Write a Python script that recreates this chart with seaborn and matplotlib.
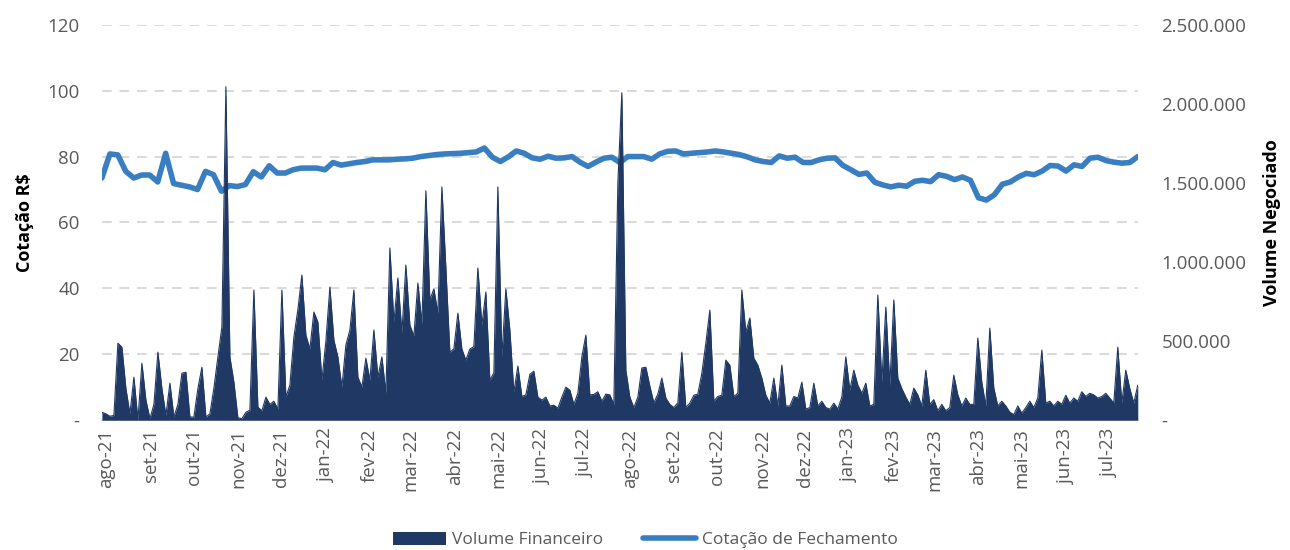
import pandas as pd
import matplotlib.pyplot as plt
from matplotlib.patches import Patch
from matplotlib.lines import Line2D
import seaborn as sns

# período do gráfico
inicio = '2021-07-29'
fim = '2023-07-21'

# Volume negociado (em milhares), ~a cada 2 pregões
volume_mil = [
    50, 40, 25, 30, 487, 462, 200, 40, 272, 0,
    360, 127, 10, 100, 430, 200, 30, 234, 20, 100,
    297, 303, 20, 20, 200, 335, 20, 40, 203, 400,
    590, 2108, 400, 240, 15, 10, 50, 63, 823, 82,
    60, 146, 100, 120, 70, 823, 146, 222, 525, 700,
    918, 538, 450, 684, 620, 253, 500, 842, 506, 400,
    209, 475, 570, 823, 272, 209, 392, 253, 570, 272,
    400, 171, 1089, 620, 899, 551, 981, 601, 532, 867,
    608, 1450, 760, 830, 677, 1475, 962, 430, 450, 677,
    450, 380, 450, 465, 962, 601, 810, 253, 300, 1475,
    400, 830, 570, 177, 342, 150, 160, 290, 310, 146,
    127, 146, 90, 95, 76, 146, 209, 190, 100, 170,
    400, 538, 160, 163, 180, 120, 165, 160, 100, 1500,
    2070, 316, 146, 80, 146, 330, 335, 215, 110, 165,
    266, 140, 100, 80, 110, 430, 80, 108, 158, 165,
    297, 487, 696, 120, 150, 158, 380, 348, 150, 170,
    823, 557, 646, 392, 348, 266, 158, 108, 266, 90,
    348, 90, 90, 150, 140, 240, 70, 80, 234, 90,
    120, 80, 70, 108, 70, 146, 400, 190, 316, 222,
    170, 234, 90, 100, 791, 240, 715, 220, 760, 266,
    200, 146, 100, 203, 160, 90, 316, 100, 130, 60,
    100, 60, 80, 285, 160, 90, 140, 100, 100, 519,
    240, 90, 582, 203, 90, 120, 90, 51, 35, 90,
    45, 80, 120, 80, 140, 443, 108, 120, 90, 120,
    100, 158, 108, 140, 120, 180, 150, 170, 160, 140,
    150, 170, 140, 108, 462, 108, 316, 200, 108, 222,
]

# Cotação de fechamento (R$), ~semanal
cotacao = [
    73.5, 80.8, 80.5, 75.5, 73.5, 74.4, 74.4, 72.3, 81.0, 71.8,
    71.3, 70.8, 70.0, 75.5, 74.5, 69.5, 71.2, 70.9, 71.5, 75.4,
    73.8, 77.2, 75.0, 75.0, 76.0, 76.5, 76.5, 76.5, 76.0, 78.2,
    77.4, 77.8, 78.2, 78.5, 79.0, 79.0, 79.0, 79.2, 79.3, 79.5,
    80.0, 80.3, 80.6, 80.8, 80.9, 81.0, 81.2, 81.4, 82.6, 79.8,
    78.5, 79.9, 81.7, 81.0, 79.6, 79.2, 80.1, 79.5, 79.6, 80.0,
    78.3, 77.0, 78.3, 79.5, 79.8, 78.2, 80.0, 80.0, 80.0, 79.2,
    80.8, 81.6, 81.7, 80.8, 81.0, 81.2, 81.4, 81.7, 81.4, 81.0,
    80.6, 79.9, 79.0, 78.5, 78.2, 80.2, 79.5, 79.8, 78.2, 78.2,
    79.0, 79.5, 79.6, 77.3, 76.0, 74.6, 75.0, 72.2, 71.4, 70.8,
    71.3, 71.0, 72.5, 72.8, 72.4, 74.5, 74.0, 73.0, 73.8, 72.8,
    67.5, 66.8, 68.4, 71.6, 72.3, 73.8, 74.9, 74.5, 75.6, 77.3,
    77.1, 75.6, 77.5, 77.0, 79.5, 79.8, 78.8, 78.3, 78.0, 78.2,
    80.0,
]

meses = ['ago-21', 'set-21', 'out-21', 'nov-21', 'dez-21', 'jan-22', 'fev-22',
         'mar-22', 'abr-22', 'mai-22', 'jun-22', 'jul-22', 'ago-22', 'set-22',
         'out-22', 'nov-22', 'dez-22', 'jan-23', 'fev-23', 'mar-23', 'abr-23',
         'mai-23', 'jun-23', 'jul-23']

datas_vol = pd.date_range(inicio, fim, periods=len(volume_mil))
datas_cot = pd.date_range(inicio, fim, periods=len(cotacao))
datas_meses = pd.date_range('2021-08-01', periods=len(meses), freq='MS')
volume = [v * 1000 for v in volume_mil]

azul_escuro = '#1F3864'
azul = '#3A7EC2'
cinza = '#595959'

sns.set_theme(style='white')
plt.rcParams['font.family'] = ['Open Sans', 'DejaVu Sans']

fig, ax = plt.subplots(figsize=(12.9, 5.5), dpi=100)
fig.subplots_adjust(left=0.079, right=0.882, top=0.955, bottom=0.236)
ax2 = ax.twinx()

# linha da cotação (eixo esquerdo)
sns.lineplot(x=datas_cot, y=cotacao, ax=ax, color=azul, linewidth=4,
             solid_capstyle='round', solid_joinstyle='round')

# área do volume (eixo direito)
sns.lineplot(x=datas_vol, y=volume, ax=ax2, color=azul_escuro, linewidth=0.8)
ax2.fill_between(datas_vol, volume, color=azul_escuro, linewidth=0)

ax.set_ylim(0, 120)
ax2.set_ylim(0, 2500000)
ax.set_xlim(datas_vol[0], datas_vol[-1])

ax.set_yticks(range(0, 121, 20))
ax.set_yticklabels(['-'] + [str(v) for v in range(20, 121, 20)])
ax2.set_yticks(range(0, 2500001, 500000))
ax2.set_yticklabels(['-'] + [f'{v:,.0f}'.replace(',', '.') for v in range(500000, 2500001, 500000)])

ax.set_xticks(datas_meses)
ax.set_xticklabels(meses, rotation=90)

ax.tick_params(axis='y', length=0, pad=16, labelsize=13.5, labelcolor=cinza)
ax2.tick_params(axis='y', length=0, pad=17, labelsize=13.5, labelcolor=cinza)
ax.tick_params(axis='x', length=0, pad=6, labelsize=13.5, labelcolor=cinza)

ax.yaxis.grid(True, linestyle=(0, (5, 4)), color='#D9D9D9', linewidth=1.4)
ax.xaxis.grid(False)
for s in ['top', 'left', 'right']:
    ax.spines[s].set_visible(False)
    ax2.spines[s].set_visible(False)
ax.spines['bottom'].set_color('#D0D0D0')
ax2.spines['bottom'].set_visible(False)

ax.set_ylabel('Cotação R$', fontsize=13, fontweight='bold', color='black')
ax.yaxis.set_label_coords(-0.066, 0.5)
ax2.set_ylabel('Volume Negociado', fontsize=13, fontweight='bold', color='black')
ax2.yaxis.set_label_coords(1.121, 0.5)
ax.set_xlabel('')

handles = [Patch(facecolor=azul_escuro, edgecolor='none'),
           Line2D([0], [0], color=azul, linewidth=4, solid_capstyle='round')]
fig.legend(handles, ['Volume Financeiro', 'Cotação de Fechamento'],
           loc='center', bbox_to_anchor=(0.5, 1 - 540 / 550), ncol=2,
           frameon=False, fontsize=12.5, handlelength=3.1, handleheight=0.8,
           handletextpad=0.3, columnspacing=2.3, labelcolor=cinza)

fig.savefig('out.png', dpi=100)
